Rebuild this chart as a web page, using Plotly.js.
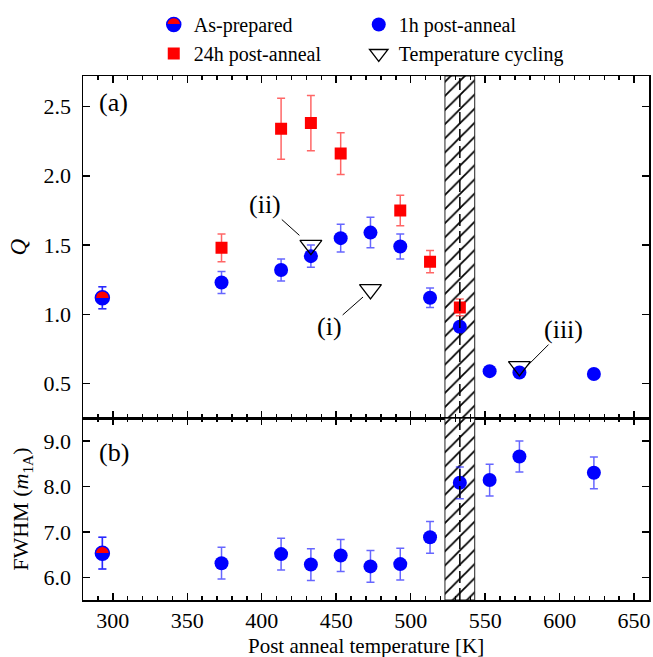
<!DOCTYPE html>
<html>
<head>
<meta charset="utf-8">
<script src="https://cdn.plot.ly/plotly-3.0.1.min.js"></script>
<style>html,body{margin:0;padding:0;background:#fff;}#chart{width:653px;height:657px;}</style>
</head>
<body>
<div id="chart"></div>
<script>
// ---- data ----
const temps1h = [293, 373, 413, 433, 453, 473, 493, 513, 533, 553, 573, 623];
const q1h     = [1.12, 1.23, 1.32, 1.42, 1.55, 1.59, 1.49, 1.12, 0.91, 0.59, 0.58, 0.57];
const q1hErr  = [0.08, 0.08, 0.08, 0.08, 0.10, 0.11, 0.09, 0.07, 0.03, 0.03, 0.03, 0.03];
const fwhm1h    = [6.53, 6.31, 6.51, 6.28, 6.48, 6.24, 6.29, 6.88, 8.08, 8.14, 8.66, 8.30];
const fwhm1hErr = [0.35, 0.35, 0.35, 0.35, 0.35, 0.35, 0.35, 0.35, 0.35, 0.35, 0.34, 0.35];

const temps24h = [373, 413, 433, 453, 493, 513, 533];
const q24h     = [1.48, 2.34, 2.38, 2.16, 1.75, 1.38, 1.05];
const q24hErr  = [0.10, 0.22, 0.20, 0.15, 0.11, 0.08, 0.06];

const tempsAsPrep = [293];
const qAsPrep     = [1.12];
const qAsPrepErr  = [0.08];
const fwhmAsPrep    = [6.53];
const fwhmAsPrepErr = [0.35];

const tempsCycling = [473, 433, 573];
const qCycling     = [1.18, 1.50, 0.625];
const cyclingLabels = ['(i)', '(ii)', '(iii)'];

const hatchStart = 523, hatchEnd = 543, transitionT = 533;
const qRange = [0.25, 2.72];
const fwhmRange = [5.5, 9.5];

// ---- styling ----
const FONT = 'Liberation Serif, Times New Roman, serif';
const BLUE = '#0000ff', RED = '#ff0000';
const blueErr = 'rgba(0,0,255,0.6)', redErr = 'rgba(255,0,0,0.6)';

function hatch(yaxisId, xaxisId, range) {
  return {
    type: 'bar', x: [(hatchStart + hatchEnd) / 2], width: [hatchEnd - hatchStart],
    base: [range[0]], y: [range[1] - range[0]], xaxis: xaxisId, yaxis: yaxisId,
    marker: {color: 'white', line: {color: '#222', width: 1},
             pattern: {shape: '/', fgcolor: 'black', bgcolor: 'white', size: 10, solidity: 0.18}},
    showlegend: false, hoverinfo: 'skip'
  };
}

const traces = [
  hatch('y', 'x', qRange),
  hatch('y2', 'x2', fwhmRange),
  {type: 'scatter', mode: 'markers', name: '1h post-anneal', legendrank: 2,
   x: temps1h, y: q1h, xaxis: 'x', yaxis: 'y',
   marker: {symbol: 'circle', size: 14, color: BLUE},
   error_y: {type: 'data', array: q1hErr, color: blueErr, thickness: 1.5, width: 4}},
  {type: 'scatter', mode: 'markers', name: '1h post-anneal', showlegend: false,
   x: temps1h, y: fwhm1h, xaxis: 'x2', yaxis: 'y2',
   marker: {symbol: 'circle', size: 14, color: BLUE},
   error_y: {type: 'data', array: fwhm1hErr, color: blueErr, thickness: 1.5, width: 4}},
  {type: 'scatter', mode: 'markers', name: '24h post-anneal', legendrank: 3,
   x: temps24h, y: q24h, xaxis: 'x', yaxis: 'y',
   marker: {symbol: 'square', size: 12, color: RED},
   error_y: {type: 'data', array: q24hErr, color: redErr, thickness: 1.5, width: 4}},
  {type: 'scatter', mode: 'markers', name: 'Temperature cycling', legendrank: 4,
   x: tempsCycling, y: qCycling, xaxis: 'x', yaxis: 'y',
   marker: {symbol: 'triangle-down-open', size: 19, color: 'black', line: {width: 1.3, color: 'black'}}},
  {type: 'scatter', mode: 'markers', name: 'As-prepared', legendrank: 1,
   x: tempsAsPrep, y: qAsPrep, xaxis: 'x', yaxis: 'y',
   marker: {symbol: 'circle', size: 14, color: RED, line: {color: BLUE, width: 1.5},
            gradient: {type: 'vertical', color: BLUE}},
   error_y: {type: 'data', array: qAsPrepErr, color: blueErr, thickness: 1.5, width: 4}},
  {type: 'scatter', mode: 'markers', name: 'As-prepared', showlegend: false,
   x: tempsAsPrep, y: fwhmAsPrep, xaxis: 'x2', yaxis: 'y2',
   marker: {symbol: 'circle', size: 14, color: RED, line: {color: BLUE, width: 1.5},
            gradient: {type: 'vertical', color: BLUE}},
   error_y: {type: 'data', array: fwhmAsPrepErr, color: blueErr, thickness: 1.5, width: 4}}
];

const tickFont = {family: FONT, size: 22, color: 'black'};
const xCommon = {
  range: [280, 660], tick0: 300, dtick: 50, ticks: 'inside', ticklen: 7, tickwidth: 1.5,
  tickcolor: 'black', showline: true, linewidth: 1.5, linecolor: 'black', mirror: 'ticks',
  showgrid: false, zeroline: false, tickfont: tickFont, ticklabelstandoff: 0,
  minor: {dtick: 10, ticks: 'inside', ticklen: 4, tickwidth: 1.5, tickcolor: 'black', showgrid: false}
};
const yCommon = {
  ticks: 'inside', ticklen: 7, tickwidth: 1.5, tickcolor: 'black', showline: true, linewidth: 1.5,
  linecolor: 'black', mirror: 'ticks', showgrid: false, zeroline: false, tickfont: tickFont,
  tickformat: '.1f', ticklabelstandoff: 6
};

// annotation placement (text centre -> tip on the triangle)
const labelTextPos = [[445.6, 0.913], [402.4, 1.791], [602.6, 0.89]];
const labelTipPos  = [[468, 1.125], [425.3, 1.570], [578, 0.625]];

const annotations = cyclingLabels.map((t, i) => ({
  text: t, xref: 'x', yref: 'y', x: labelTipPos[i][0], y: labelTipPos[i][1],
  axref: 'x', ayref: 'y', ax: labelTextPos[i][0], ay: labelTextPos[i][1],
  showarrow: true, arrowhead: 0, arrowwidth: 1, arrowcolor: 'black', standoff: 0, startstandoff: 0,
  borderpad: 0, font: {family: FONT, size: 26, color: 'black'}
}));
annotations.push({text: '(a)', xref: 'paper', yref: 'paper', x: 0.024, y: 0.9485, xanchor: 'left', yanchor: 'middle',
  showarrow: false, font: {family: FONT, size: 26, color: 'black'}});
annotations.push({text: '(b)', xref: 'paper', yref: 'paper', x: 0.024, y: 0.2824, xanchor: 'left', yanchor: 'middle',
  showarrow: false, font: {family: FONT, size: 26, color: 'black'}});
// x-axis title
annotations.push({text: 'Post anneal temperature [K]', xref: 'paper', yref: 'paper', x: 0.5, y: -0.087,
  xanchor: 'center', yanchor: 'middle', showarrow: false, borderpad: 0,
  font: {family: FONT, size: 21, color: 'black'}});

const splitFrac = 0.3468;
const layout = {
  width: 653, height: 657,
  margin: {l: 83, r: 4, t: 76, b: 57, autoexpand: false},
  paper_bgcolor: 'white', plot_bgcolor: 'white',
  font: {family: FONT, size: 20, color: 'black'},
  showlegend: true,
  legend: {orientation: 'h', x: 0.125, xanchor: 'left', y: 1.1355, yanchor: 'top',
           entrywidth: 160, entrywidthmode: 'pixels', font: {family: FONT, size: 20, color: 'black'},
           bgcolor: 'rgba(0,0,0,0)', traceorder: 'normal'},
  bargap: 0,
  xaxis: Object.assign({}, xCommon, {anchor: 'y', showticklabels: false}),
  xaxis2: Object.assign({}, xCommon, {anchor: 'y2', matches: 'x'}),
  yaxis: Object.assign({}, yCommon, {domain: [splitFrac, 1], range: qRange, tick0: 0.5, dtick: 0.5,
    title: {text: '<i>Q</i>', font: {family: FONT, size: 23, color: 'black'}}}),
  yaxis2: Object.assign({}, yCommon, {domain: [0, splitFrac], range: fwhmRange, tick0: 6, dtick: 1,
    title: {text: 'FWHM (<i>m</i><sub>1A</sub>)', font: {family: FONT, size: 22, color: 'black'}}}),
  shapes: [{type: 'line', xref: 'x', yref: 'paper', x0: transitionT, x1: transitionT, y0: 0, y1: 1,
            line: {color: 'black', width: 1.5, dash: '12px,5px'}, layer: 'above'}],
  annotations: annotations
};

Plotly.newPlot('chart', traces, layout, {staticPlot: true}).then(() => {
  // make the As-prepared red/blue split sharp (half red, half blue)
  const NS = 'http://www.w3.org/2000/svg';
  document.querySelectorAll('linearGradient').forEach(g => {
    const stops = g.querySelectorAll('stop');
    if (stops.length !== 2) return;
    const c0 = stops[0].getAttribute('stop-color'), c1 = stops[1].getAttribute('stop-color');
    const a = document.createElementNS(NS, 'stop');
    a.setAttribute('offset', '50%'); a.setAttribute('stop-color', c0);
    const b = document.createElementNS(NS, 'stop');
    b.setAttribute('offset', '50%'); b.setAttribute('stop-color', c1);
    g.insertBefore(a, stops[1]); g.insertBefore(b, stops[1]);
  });
});
</script>
</body>
</html>
